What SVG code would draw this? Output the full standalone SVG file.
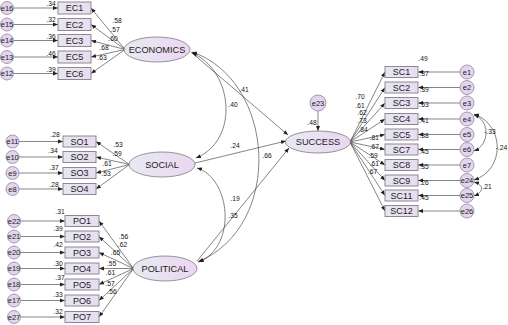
<svg xmlns="http://www.w3.org/2000/svg" width="508" height="325" viewBox="0 0 508 325">
<defs>
<linearGradient id="gEll" x1="0" y1="0" x2="1" y2="0"><stop offset="0" stop-color="#e6eaf2"/><stop offset="1" stop-color="#ecd6f0"/></linearGradient>
<linearGradient id="gBox" x1="0" y1="0" x2="1" y2="0"><stop offset="0" stop-color="#e6e6f0"/><stop offset="1" stop-color="#eadcf0"/></linearGradient>
<marker id="ah" viewBox="0 0 10 10" refX="10" refY="5" markerWidth="5" markerHeight="5" markerUnits="userSpaceOnUse" orient="auto-start-reverse"><path d="M0,1 L10,5 L0,9 Z" fill="#222"/></marker>
<style>
.box{fill:url(#gBox);stroke:#8a8a96;stroke-width:1}
.ell{fill:url(#gEll);stroke:#7a7a86;stroke-width:0.8}
.err{fill:#e4d4ee;stroke:#8a8a96;stroke-width:0.8}
.ln{fill:none;stroke:#333;stroke-width:0.6;marker-end:url(#ah)}
.cv{fill:none;stroke:#333;stroke-width:0.6;marker-end:url(#ah);marker-start:url(#ah)}
.bt{font-family:"Liberation Sans",Arial,sans-serif;font-size:9px;fill:#222;text-anchor:middle}
.lt{font-family:"Liberation Sans",Arial,sans-serif;font-size:9.2px;fill:#222;text-anchor:middle}
.et{font-family:"Liberation Sans",Arial,sans-serif;font-size:7.5px;fill:#222;text-anchor:middle}
.nt{font-family:"Liberation Sans",Arial,sans-serif;font-size:6.7px;fill:#111;text-anchor:middle}
</style>
</defs>

<g id="connectors">
<!-- EC errors -->
<line class="ln" x1="13.5" y1="8" x2="58" y2="8"/>
<line class="ln" x1="13.5" y1="24.5" x2="58" y2="24.5"/>
<line class="ln" x1="13.5" y1="40.5" x2="58" y2="40.5"/>
<line class="ln" x1="13.5" y1="57" x2="58" y2="57"/>
<line class="ln" x1="13.5" y1="73.5" x2="58" y2="73.5"/>
<!-- EC loadings -->
<line class="ln" x1="125" y1="49.5" x2="91" y2="8"/>
<line class="ln" x1="125" y1="49.5" x2="91" y2="24.5"/>
<line class="ln" x1="125" y1="49.5" x2="91" y2="40.5"/>
<line class="ln" x1="125" y1="49.5" x2="91" y2="57"/>
<line class="ln" x1="125" y1="49.5" x2="91" y2="73.5"/>
<!-- SO errors -->
<line class="ln" x1="19" y1="141.5" x2="63" y2="141.5"/>
<line class="ln" x1="19" y1="157" x2="63" y2="157"/>
<line class="ln" x1="19" y1="173" x2="63" y2="173"/>
<line class="ln" x1="19" y1="189" x2="63" y2="189"/>
<!-- SO loadings -->
<line class="ln" x1="129.5" y1="164.5" x2="96" y2="141.5"/>
<line class="ln" x1="129.5" y1="164.5" x2="96" y2="157"/>
<line class="ln" x1="129.5" y1="164.5" x2="96" y2="173"/>
<line class="ln" x1="129.5" y1="164.5" x2="96" y2="189"/>
<!-- PO errors -->
<line class="ln" x1="20.5" y1="221" x2="65" y2="221"/>
<line class="ln" x1="20.5" y1="236.5" x2="65" y2="236.5"/>
<line class="ln" x1="20.5" y1="252.5" x2="65" y2="252.5"/>
<line class="ln" x1="20.5" y1="268.5" x2="65" y2="268.5"/>
<line class="ln" x1="20.5" y1="284.5" x2="65" y2="284.5"/>
<line class="ln" x1="20.5" y1="300.5" x2="65" y2="300.5"/>
<line class="ln" x1="20.5" y1="317" x2="65" y2="317"/>
<!-- PO loadings -->
<line class="ln" x1="133.5" y1="268.5" x2="99" y2="221"/>
<line class="ln" x1="133.5" y1="268.5" x2="99" y2="236.5"/>
<line class="ln" x1="133.5" y1="268.5" x2="99" y2="252.5"/>
<line class="ln" x1="133.5" y1="268.5" x2="99" y2="268.5"/>
<line class="ln" x1="133.5" y1="268.5" x2="99" y2="284.5"/>
<line class="ln" x1="133.5" y1="268.5" x2="99" y2="300.5"/>
<line class="ln" x1="133.5" y1="268.5" x2="99" y2="317"/>
<!-- structural -->
<line class="ln" x1="191" y1="52" x2="288" y2="135"/>
<line class="ln" x1="195" y1="163" x2="286" y2="141"/>
<line class="ln" x1="197" y1="261" x2="289" y2="148"/>
<line class="ln" x1="318" y1="111" x2="318" y2="131"/>
<!-- covariances -->
<path class="cv" d="M192,53 C233,70 240,140 196,158"/>
<path class="cv" d="M192,52 C275,80 285,225 198,262"/>
<path class="cv" d="M197,168 C230,178 238,245 199,262"/>
<!-- SC loadings -->
<line class="ln" x1="350" y1="142" x2="385" y2="72"/>
<line class="ln" x1="350" y1="142" x2="385" y2="87.5"/>
<line class="ln" x1="350" y1="142" x2="385" y2="103"/>
<line class="ln" x1="350" y1="142" x2="385" y2="119"/>
<line class="ln" x1="350" y1="142" x2="385" y2="134.5"/>
<line class="ln" x1="350" y1="142" x2="385" y2="149.5"/>
<line class="ln" x1="350" y1="142" x2="385" y2="165"/>
<line class="ln" x1="350" y1="142" x2="385" y2="180.5"/>
<line class="ln" x1="350" y1="142" x2="385" y2="195.5"/>
<line class="ln" x1="350" y1="142" x2="385" y2="211"/>
<!-- SC errors -->
<line class="ln" x1="460" y1="72" x2="418" y2="72"/>
<line class="ln" x1="460" y1="87.5" x2="418" y2="87.5"/>
<line class="ln" x1="460" y1="103" x2="418" y2="103"/>
<line class="ln" x1="460" y1="119" x2="418" y2="119"/>
<line class="ln" x1="460" y1="134.5" x2="418" y2="134.5"/>
<line class="ln" x1="460" y1="149.5" x2="418" y2="149.5"/>
<line class="ln" x1="460" y1="165" x2="418" y2="165"/>
<line class="ln" x1="460" y1="180.5" x2="418" y2="180.5"/>
<line class="ln" x1="460" y1="195.5" x2="418" y2="195.5"/>
<line class="ln" x1="460" y1="211" x2="418" y2="211"/>
<!-- error covariances -->
<path class="cv" d="M474,115 C490,120 490,145 474,151"/>
<path class="cv" d="M474,114 C505,125 505,170 474,180"/>
<path class="cv" d="M474,182 C484,185 484,192 474,196"/>
</g>

<!-- EC -->
<g id="EC1"><rect class="box" x="58" y="2" width="33" height="12"/><text class="bt" x="74.5" y="11.2">EC1</text></g>
<g id="EC2"><rect class="box" x="58" y="18.5" width="33" height="12"/><text class="bt" x="74.5" y="27.7">EC2</text></g>
<g id="EC3"><rect class="box" x="58" y="34.5" width="33" height="12"/><text class="bt" x="74.5" y="43.7">EC3</text></g>
<g id="EC5"><rect class="box" x="58" y="51" width="33" height="12"/><text class="bt" x="74.5" y="60.2">EC5</text></g>
<g id="EC6"><rect class="box" x="58" y="67.5" width="33" height="12"/><text class="bt" x="74.5" y="76.7">EC6</text></g>
<g id="e16"><circle class="err" cx="7" cy="8" r="6.5"/><text class="et" x="7" y="10.7">e16</text></g>
<g id="e15"><circle class="err" cx="7" cy="24.5" r="6.5"/><text class="et" x="7" y="27.2">e15</text></g>
<g id="e14"><circle class="err" cx="7" cy="40.5" r="6.5"/><text class="et" x="7" y="43.2">e14</text></g>
<g id="e13"><circle class="err" cx="7" cy="57" r="6.5"/><text class="et" x="7" y="59.7">e13</text></g>
<g id="e12"><circle class="err" cx="7" cy="73.5" r="6.5"/><text class="et" x="7" y="76.2">e12</text></g>

<!-- SO -->
<g id="SO1"><rect class="box" x="63" y="136" width="33" height="11"/><text class="bt" x="79.5" y="144.7">SO1</text></g>
<g id="SO2"><rect class="box" x="63" y="151.5" width="33" height="11"/><text class="bt" x="79.5" y="160.2">SO2</text></g>
<g id="SO3"><rect class="box" x="63" y="167.5" width="33" height="11"/><text class="bt" x="79.5" y="176.2">SO3</text></g>
<g id="SO4"><rect class="box" x="63" y="183.5" width="33" height="11"/><text class="bt" x="79.5" y="192.2">SO4</text></g>
<g id="e11"><circle class="err" cx="12.5" cy="141.5" r="6.5"/><text class="et" x="12.5" y="144.2">e11</text></g>
<g id="e10"><circle class="err" cx="12.5" cy="157" r="6.5"/><text class="et" x="12.5" y="159.7">e10</text></g>
<g id="e9"><circle class="err" cx="12.5" cy="173" r="6.5"/><text class="et" x="12.5" y="175.7">e9</text></g>
<g id="e8"><circle class="err" cx="12.5" cy="189" r="6.5"/><text class="et" x="12.5" y="191.7">e8</text></g>

<!-- PO -->
<g id="PO1"><rect class="box" x="65" y="215.5" width="34" height="11"/><text class="bt" x="82" y="224.2">PO1</text></g>
<g id="PO2"><rect class="box" x="65" y="231" width="34" height="11"/><text class="bt" x="82" y="239.7">PO2</text></g>
<g id="PO3"><rect class="box" x="65" y="247" width="34" height="11"/><text class="bt" x="82" y="255.7">PO3</text></g>
<g id="PO4"><rect class="box" x="65" y="263" width="34" height="11"/><text class="bt" x="82" y="271.7">PO4</text></g>
<g id="PO5"><rect class="box" x="65" y="279" width="34" height="11"/><text class="bt" x="82" y="287.7">PO5</text></g>
<g id="PO6"><rect class="box" x="65" y="295" width="34" height="11"/><text class="bt" x="82" y="303.7">PO6</text></g>
<g id="PO7"><rect class="box" x="65" y="311.5" width="34" height="11"/><text class="bt" x="82" y="320.2">PO7</text></g>
<g id="e22"><circle class="err" cx="14" cy="221" r="6.5"/><text class="et" x="14" y="223.7">e22</text></g>
<g id="e21"><circle class="err" cx="14" cy="236.5" r="6.5"/><text class="et" x="14" y="239.2">e21</text></g>
<g id="e20"><circle class="err" cx="14" cy="252.5" r="6.5"/><text class="et" x="14" y="255.2">e20</text></g>
<g id="e19"><circle class="err" cx="14" cy="268.5" r="6.5"/><text class="et" x="14" y="271.2">e19</text></g>
<g id="e18"><circle class="err" cx="14" cy="284.5" r="6.5"/><text class="et" x="14" y="287.2">e18</text></g>
<g id="e17"><circle class="err" cx="14" cy="300.5" r="6.5"/><text class="et" x="14" y="303.2">e17</text></g>
<g id="e27"><circle class="err" cx="14" cy="317" r="6.5"/><text class="et" x="14" y="319.7">e27</text></g>

<!-- latents -->
<g id="ECONOMICS"><ellipse class="ell" cx="157" cy="49.5" rx="33" ry="12.5"/><text class="lt" x="157" y="52.8">ECONOMICS</text></g>
<g id="SOCIAL"><ellipse class="ell" cx="162" cy="164.5" rx="33" ry="12.5"/><text class="lt" x="162" y="167.8">SOCIAL</text></g>
<g id="POLITICAL"><ellipse class="ell" cx="165" cy="268.5" rx="32" ry="12.5"/><text class="lt" x="165" y="271.8">POLITICAL</text></g>
<g id="SUCCESS"><ellipse class="ell" cx="318" cy="142" rx="32.5" ry="11"/><text class="lt" x="318" y="145.3">SUCCESS</text></g>
<g id="e23"><circle class="err" cx="318" cy="103" r="8"/><text class="et" x="318" y="105.7">e23</text></g>

<!-- SC -->
<g id="SC1"><rect class="box" x="385" y="66.5" width="33" height="11"/><text class="bt" x="401.5" y="75.2">SC1</text></g>
<g id="SC2"><rect class="box" x="385" y="82" width="33" height="11"/><text class="bt" x="401.5" y="90.7">SC2</text></g>
<g id="SC3"><rect class="box" x="385" y="97.5" width="33" height="11"/><text class="bt" x="401.5" y="106.2">SC3</text></g>
<g id="SC4"><rect class="box" x="385" y="113.5" width="33" height="11"/><text class="bt" x="401.5" y="122.2">SC4</text></g>
<g id="SC5"><rect class="box" x="385" y="129" width="33" height="11"/><text class="bt" x="401.5" y="137.7">SC5</text></g>
<g id="SC7"><rect class="box" x="385" y="144" width="33" height="11"/><text class="bt" x="401.5" y="152.7">SC7</text></g>
<g id="SC8"><rect class="box" x="385" y="159.5" width="33" height="11"/><text class="bt" x="401.5" y="168.2">SC8</text></g>
<g id="SC9"><rect class="box" x="385" y="175" width="33" height="11"/><text class="bt" x="401.5" y="183.7">SC9</text></g>
<g id="SC11"><rect class="box" x="385" y="190" width="33" height="11"/><text class="bt" x="401.5" y="198.7">SC11</text></g>
<g id="SC12"><rect class="box" x="385" y="205.5" width="33" height="11"/><text class="bt" x="401.5" y="214.2">SC12</text></g>
<g id="e1"><circle class="err" cx="467" cy="72" r="7"/><text class="et" x="467" y="74.7">e1</text></g>
<g id="e2"><circle class="err" cx="467" cy="87.5" r="7"/><text class="et" x="467" y="90.2">e2</text></g>
<g id="e3"><circle class="err" cx="467" cy="103" r="7"/><text class="et" x="467" y="105.7">e3</text></g>
<g id="e4"><circle class="err" cx="467" cy="119" r="7"/><text class="et" x="467" y="121.7">e4</text></g>
<g id="e5"><circle class="err" cx="467" cy="134.5" r="7"/><text class="et" x="467" y="137.2">e5</text></g>
<g id="e6"><circle class="err" cx="467" cy="149.5" r="7"/><text class="et" x="467" y="152.2">e6</text></g>
<g id="e7"><circle class="err" cx="467" cy="165" r="7"/><text class="et" x="467" y="167.7">e7</text></g>
<g id="e24"><circle class="err" cx="467" cy="180.5" r="7"/><text class="et" x="467" y="183.2">e24</text></g>
<g id="e25"><circle class="err" cx="467" cy="195.5" r="7"/><text class="et" x="467" y="198.2">e25</text></g>
<g id="e26"><circle class="err" cx="467" cy="211" r="7"/><text class="et" x="467" y="213.7">e26</text></g>

<g id="labels">
<!-- EC R2 -->
<text class="nt" x="51" y="6">.34</text>
<text class="nt" x="51" y="22">.32</text>
<text class="nt" x="51" y="38.5">.36</text>
<text class="nt" x="51" y="55.5">.46</text>
<text class="nt" x="51" y="72">.39</text>
<!-- EC loadings -->
<text class="nt" x="117" y="23">.58</text>
<text class="nt" x="115" y="32">.57</text>
<text class="nt" x="113" y="41">.60</text>
<text class="nt" x="104" y="50">.68</text>
<text class="nt" x="102" y="59.5">.63</text>
<!-- SO -->
<text class="nt" x="55" y="137.3">.28</text>
<text class="nt" x="53" y="153.3">.34</text>
<text class="nt" x="54" y="169.5">.37</text>
<text class="nt" x="54" y="186.5">.28</text>
<text class="nt" x="118" y="147.3">.53</text>
<text class="nt" x="117" y="155.5">.59</text>
<text class="nt" x="107" y="165.5">.61</text>
<text class="nt" x="106" y="175.5">.53</text>
<!-- PO -->
<text class="nt" x="60" y="214">.31</text>
<text class="nt" x="58" y="230.5">.39</text>
<text class="nt" x="58" y="247">.42</text>
<text class="nt" x="58" y="266">.30</text>
<text class="nt" x="60" y="280">.37</text>
<text class="nt" x="58" y="297">.33</text>
<text class="nt" x="58" y="313.5">.32</text>
<text class="nt" x="123.5" y="238.5">.56</text>
<text class="nt" x="122.5" y="247">.62</text>
<text class="nt" x="115.5" y="254.5">.65</text>
<text class="nt" x="111.5" y="266">.55</text>
<text class="nt" x="110.5" y="274.5">.61</text>
<text class="nt" x="110" y="286">.57</text>
<text class="nt" x="112" y="293.5">.56</text>
<!-- structural -->
<text class="nt" x="233" y="106.5">.40</text>
<text class="nt" x="244" y="91.5">.41</text>
<text class="nt" x="235" y="148.3">.24</text>
<text class="nt" x="267" y="158.3">.66</text>
<text class="nt" x="235" y="201.3">.19</text>
<text class="nt" x="233" y="218.3">.35</text>
<text class="nt" x="312" y="124.5">.48</text>
<!-- SC loadings -->
<text class="nt" x="360" y="99">.70</text>
<text class="nt" x="360" y="107.5">.61</text>
<text class="nt" x="362" y="115">.62</text>
<text class="nt" x="362" y="123">.73</text>
<text class="nt" x="363" y="132.3">.84</text>
<text class="nt" x="374.3" y="140.3">.81</text>
<text class="nt" x="374.3" y="149.3">.67</text>
<text class="nt" x="373" y="158.3">.59</text>
<text class="nt" x="374.3" y="166.3">.61</text>
<text class="nt" x="372.5" y="174">.67</text>
<!-- SC R2 -->
<text class="nt" x="423" y="61.3">.49</text>
<text class="nt" x="424" y="76.3">.37</text>
<text class="nt" x="424" y="91.5">.39</text>
<text class="nt" x="424" y="107.3">.53</text>
<text class="nt" x="424" y="123">.41</text>
<text class="nt" x="424" y="138.3">.38</text>
<text class="nt" x="424" y="154">.45</text>
<text class="nt" x="424" y="169.3">.35</text>
<text class="nt" x="424" y="185">.26</text>
<text class="nt" x="424" y="200">.45</text>
<!-- error covariances -->
<text class="nt" x="490" y="134.3">-.33</text>
<text class="nt" x="501.5" y="150.3">-.24</text>
<text class="nt" x="487" y="189.3">.21</text>
</g>
</svg>
